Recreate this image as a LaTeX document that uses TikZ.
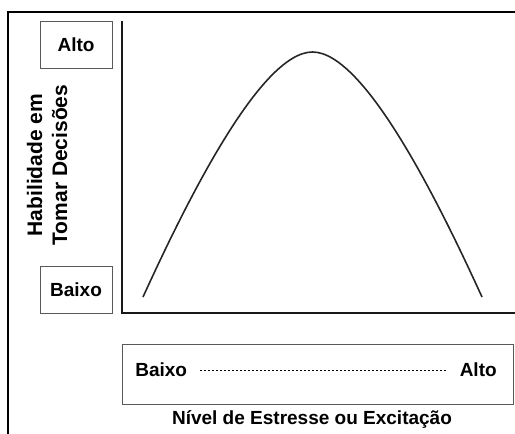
\documentclass[tikz,border=0pt]{standalone}
\usepackage{fontspec}
\setmainfont{Liberation Sans}
\usetikzlibrary{positioning}

\begin{document}
\begin{tikzpicture}[x=1pt,y=-1pt,font=\fontsize{19}{25}\selectfont\bfseries,semithick]
\tikzstyle{level}=[draw=black!65,line width=1pt,minimum width=72pt,minimum height=47pt,inner sep=0pt]
\tikzstyle{axis}=[line width=1.5pt,black!90]
\useasboundingbox (0,0) rectangle (515,434);
\draw[line width=2pt] (515,12) -- (8,12) -- (8,434);
\node[level] (A) at (76,44.5) {Alto};
\node[level] (B) at (76,290) {Baixo};
\node[rotate=90,align=center,font=\fontsize{21}{25}\selectfont\bfseries] (H) at (47,165) {Habilidade em\\Tomar Decisões};
\coordinate (Y) at (122,21);
\coordinate (O) at (122,313);
\coordinate (X) at (515,313);
\draw[axis] (Y) -- (O) -- (X);
\draw[line width=1.6pt,black!85] (143,297) .. controls (185,205) and (260,52) .. (312.5,52)
  .. controls (365,52) and (440,205) .. (482,297);
\node[level,minimum width=391pt,minimum height=60pt] (E) at (317.5,374) {};
\node[anchor=west,inner sep=0pt] (C) at (135,370) {Baixo};
\node[anchor=east,inner sep=0pt] (D) at (497,370) {Alto};
\path (C) edge[line width=0.7pt,dash pattern=on 2pt off 2pt,shorten <=13pt,shorten >=12pt] (D);
\node (N) at (312,420) {Nível de Estresse ou Excitação};
\end{tikzpicture}
\end{document}
